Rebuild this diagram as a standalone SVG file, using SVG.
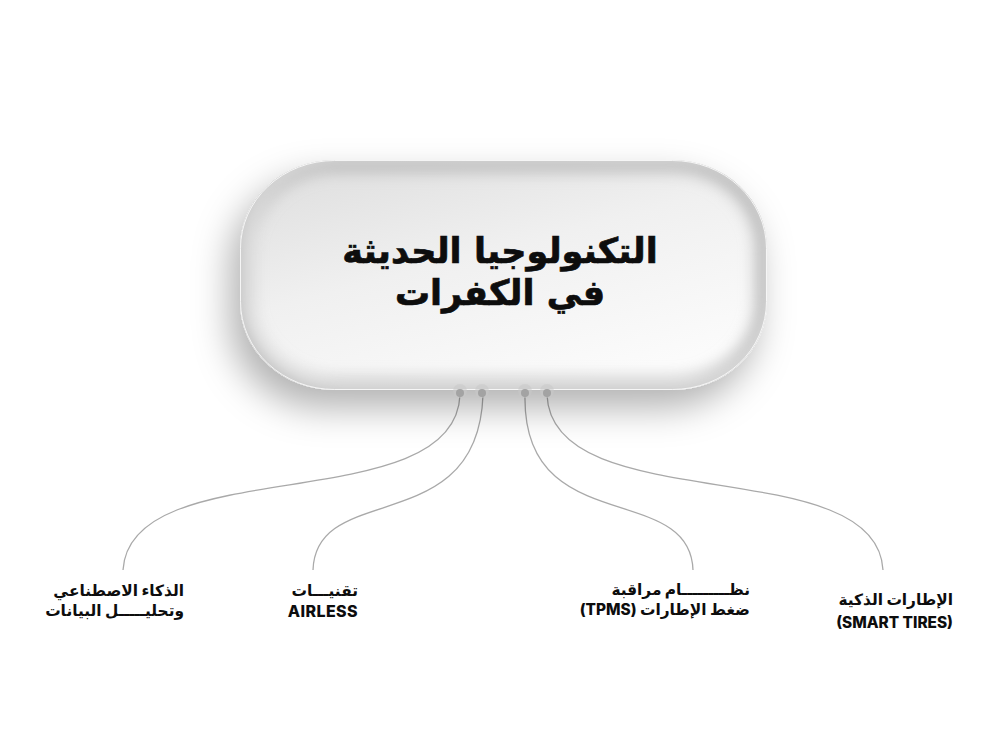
<svg xmlns="http://www.w3.org/2000/svg" width="1000" height="750" viewBox="0 0 1000 750">
  <defs>
    <style>
      .title { font-family: Inter, "DejaVu Sans", sans-serif; font-weight: 700; font-size: 35px; word-spacing: 4px; fill: #0d0d0d; stroke: #0d0d0d; stroke-width: 0.7; }
      .lbl { font-family: Inter, "DejaVu Sans", sans-serif; font-weight: 800; font-size: 15.4px; fill: #0d0d0d; }
      .latin { font-size: 16px; }
      .conn { fill: none; stroke: #a9a9a9; stroke-width: 1.3; }
      .halo { fill: #c9c9c9; opacity: 0.55; }
      .dot { fill: #a3a3a3; }
    </style>
    <linearGradient id="bodyGrad" x1="0" y1="0" x2="0.6" y2="1">
      <stop offset="0" stop-color="#dcdcdc"/>
      <stop offset="0.5" stop-color="#f0f0f0"/>
      <stop offset="1" stop-color="#fbfbfb"/>
    </linearGradient>
    <filter id="outerShadow" x="-30%" y="-30%" width="160%" height="180%">
      <feDropShadow dx="-10" dy="18" stdDeviation="18" flood-color="#000" flood-opacity="0.3"/>
    </filter>
    <filter id="blur6" x="-20%" y="-20%" width="140%" height="140%">
      <feGaussianBlur stdDeviation="8"/>
    </filter>
    <clipPath id="pillClip">
      <rect x="240" y="160" width="527" height="230" rx="94" ry="88"/>
    </clipPath>
  </defs>

  <rect width="1000" height="750" fill="#ffffff"/>

  <g id="connectors">
    <path class="conn" d="M460,395 C455,520 130,450 123,570"/>
    <path class="conn" d="M483,395 C478,540 316,480 313,570"/>
    <path class="conn" d="M525,395 C522,540 690,480 693,570"/>
    <path class="conn" d="M547,395 C552,520 877,450 883,570"/>
  </g>

  <g id="node-center">
    <rect x="240" y="160" width="527" height="230" rx="94" ry="88" fill="url(#bodyGrad)" filter="url(#outerShadow)"/>
    <g clip-path="url(#pillClip)">
      <rect x="240" y="160" width="527" height="230" rx="94" ry="88" fill="none" stroke="#b8b8b8" stroke-width="22" filter="url(#blur6)"/>
      <rect x="247" y="155" width="527" height="230" rx="94" ry="88" fill="none" stroke="#ffffff" stroke-width="7" filter="url(#blur6)" opacity="0.9"/>
    </g>
    <rect x="240.5" y="160.5" width="526" height="229" rx="94" ry="88" fill="none" stroke="#ffffff" stroke-width="1" opacity="0.8"/>
    <text class="title" x="500" y="263" text-anchor="middle" direction="rtl">التكنولوجيا الحديثة</text>
    <text class="title" x="500" y="305" text-anchor="middle" direction="rtl">في الكفرات</text>
  </g>

  <g id="anchors">
    <circle class="halo" cx="460" cy="391" r="7"/>
    <circle class="dot" cx="460" cy="393" r="4"/>
    <circle class="halo" cx="482" cy="391" r="7"/>
    <circle class="dot" cx="482" cy="393" r="4"/>
    <circle class="halo" cx="525" cy="391" r="7"/>
    <circle class="dot" cx="525" cy="393" r="4"/>
    <circle class="halo" cx="547" cy="391" r="7"/>
    <circle class="dot" cx="547" cy="393" r="4"/>
  </g>

  <g id="node-ai">
    <text class="lbl" x="184" y="596" direction="rtl" text-anchor="start">الذكاء الاصطناعي</text>
    <text class="lbl" x="184" y="616" direction="rtl" text-anchor="start">وتحليـــــل البيانات</text>
  </g>
  <g id="node-airless">
    <text class="lbl" x="358" y="596" direction="rtl" text-anchor="start">تقنيـــات</text>
    <text class="lbl latin" x="358" y="617" text-anchor="end" letter-spacing="0.4">AIRLESS</text>
  </g>
  <g id="node-tpms">
    <text class="lbl" x="750" y="595" direction="rtl" text-anchor="start">نظـــــــــام مراقبة</text>
    <text class="lbl" x="750" y="615" direction="rtl" text-anchor="start">ضغط الإطارات (TPMS)</text>
  </g>
  <g id="node-smart">
    <text class="lbl" x="953" y="605" direction="rtl" text-anchor="start">الإطارات الذكية</text>
    <text class="lbl" x="953" y="628" text-anchor="end">(SMART TIRES)</text>
  </g>
</svg>
